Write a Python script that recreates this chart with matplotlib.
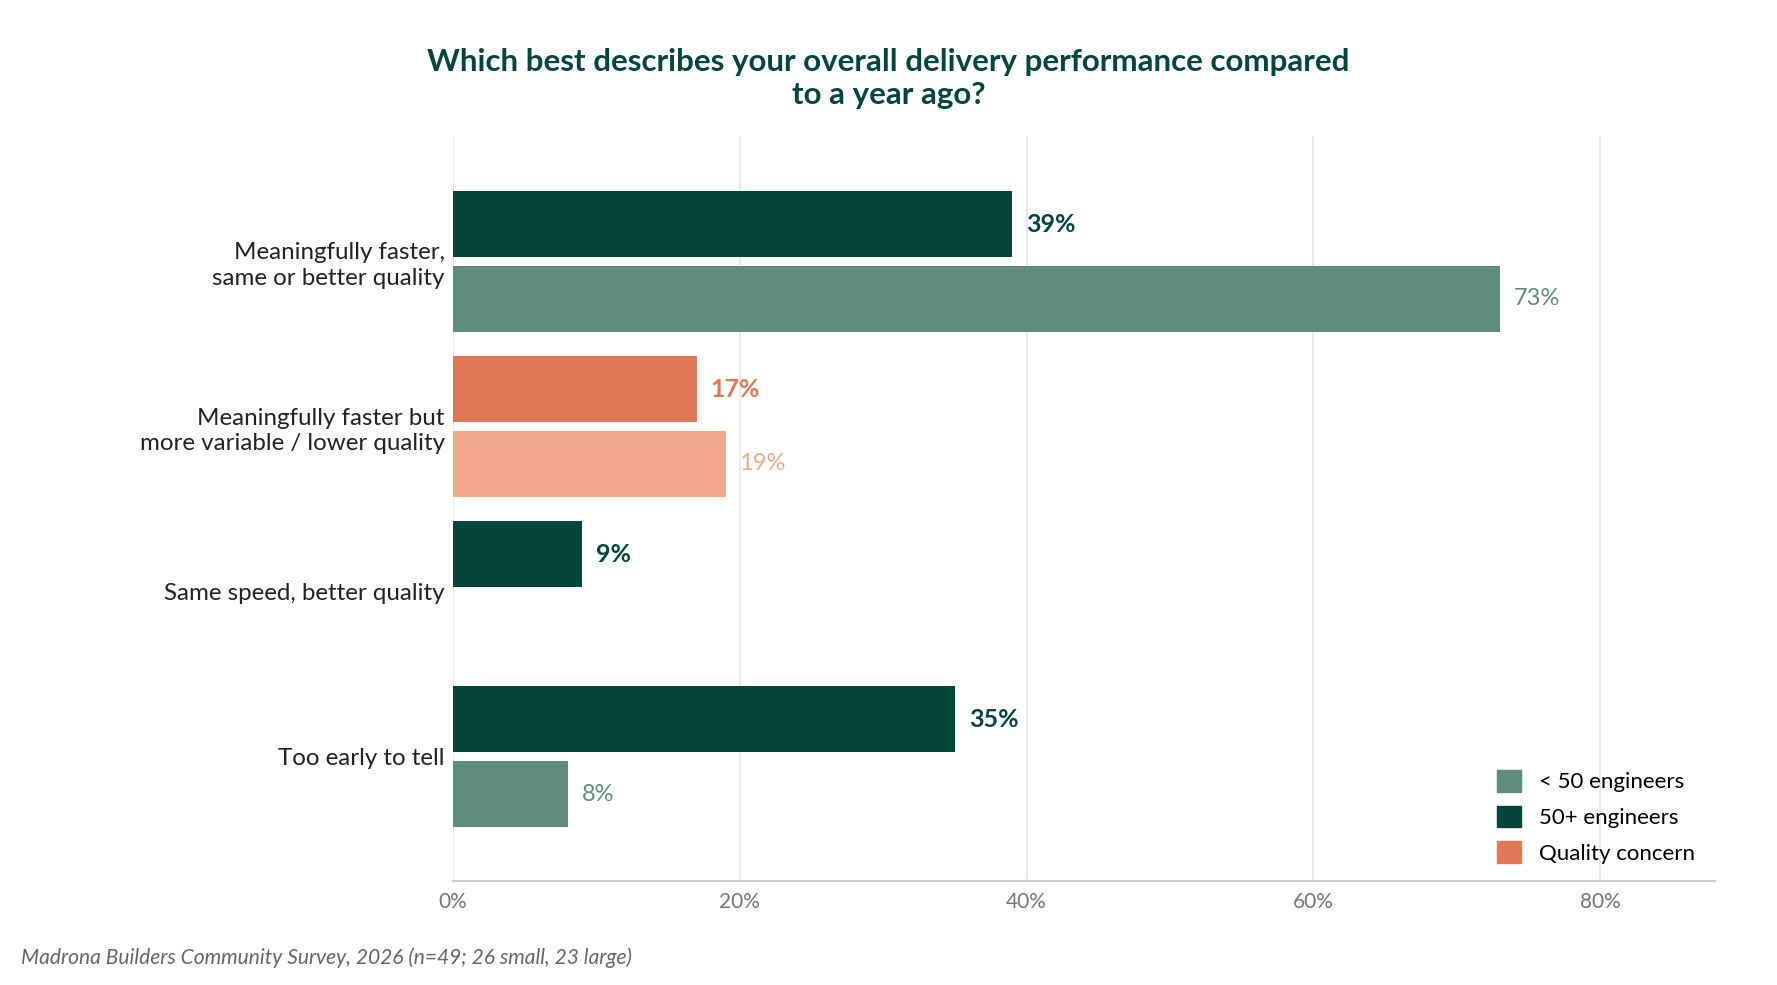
import numpy as np
import matplotlib.pyplot as plt
from matplotlib.patches import Patch

plt.rcParams['font.family'] = ['Lato', 'DejaVu Sans']

categories = ["Meaningfully faster,\nsame or better quality",
              "Meaningfully faster but\nmore variable / lower quality",
              "Same speed, better quality",
              "Too early to tell"]
large = [39, 17, 9, 35]          # 50+ engineers
small = [73, 19, np.nan, 8]      # < 50 engineers
quality = [False, True, False, False]

dark = '#04473A'
light = '#5E8C7D'
orange = '#E07856'
orange_light = '#F2A98B'

fig = plt.figure(figsize=(17.77, 9.85), dpi=100)
ax = fig.add_axes([0.255, 0.106, 0.71, 0.756])

y = np.arange(len(categories))
h = 0.398
off = 0.2265

for i in range(len(categories)):
	c_big = orange if quality[i] else dark
	c_small = orange_light if quality[i] else light
	ax.barh(y[i] - off, large[i], height=h, color=c_big, zorder=3)
	ax.annotate(f"{large[i]:.0f}%", (large[i], y[i] - off), xytext=(10, 0),
				textcoords='offset points', va='center', ha='left',
				fontsize=18, fontweight='bold', color=c_big)
	if not np.isnan(small[i]):
		ax.barh(y[i] + off, small[i], height=h, color=c_small, zorder=3)
		ax.annotate(f"{small[i]:.0f}%", (small[i], y[i] + off), xytext=(10, 0),
					textcoords='offset points', va='center', ha='left',
					fontsize=17, color=c_small)

ax.set_yticks(y)
ax.set_yticklabels(categories, fontsize=17.4, color='#222222', linespacing=1.25)
ax.set_ylim(3.75, -0.76)
ax.set_xlim(0, 88)
ax.set_xticks([0, 20, 40, 60, 80])
ax.set_xticklabels(['0%', '20%', '40%', '60%', '80%'], fontsize=15, color='#777777')
ax.tick_params(axis='both', length=0)
ax.tick_params(axis='y', pad=6)
ax.tick_params(axis='x', pad=8)
ax.grid(axis='x', color='#e6e6e6', linewidth=1.2, zorder=0)
for s in ['top', 'right', 'left']:
	ax.spines[s].set_visible(False)
ax.spines['bottom'].set_color('#cccccc')
ax.spines['bottom'].set_linewidth(1.5)

handles = [Patch(color=light, label='< 50 engineers'),
		   Patch(color=dark, label='50+ engineers'),
		   Patch(color=orange, label='Quality concern')]
ax.legend(handles=handles, loc='lower right', frameon=False, fontsize=16,
		  handlelength=1.1, handleheight=1.1, handletextpad=0.8,
		  labelspacing=0.6, bbox_to_anchor=(1.0, -0.004))

fig.text(0.5, 0.92, "Which best describes your overall delivery performance compared\nto a year ago?",
		 ha='center', va='center', fontsize=22.5, fontweight='bold', color=dark,
		 linespacing=1.22)
fig.text(0.012, 0.028, "Madrona Builders Community Survey, 2026 (n=49; 26 small, 23 large)",
		 ha='left', va='center', fontsize=15.1, style='italic', color='#666666')

fig.savefig('out.png', dpi=100)
